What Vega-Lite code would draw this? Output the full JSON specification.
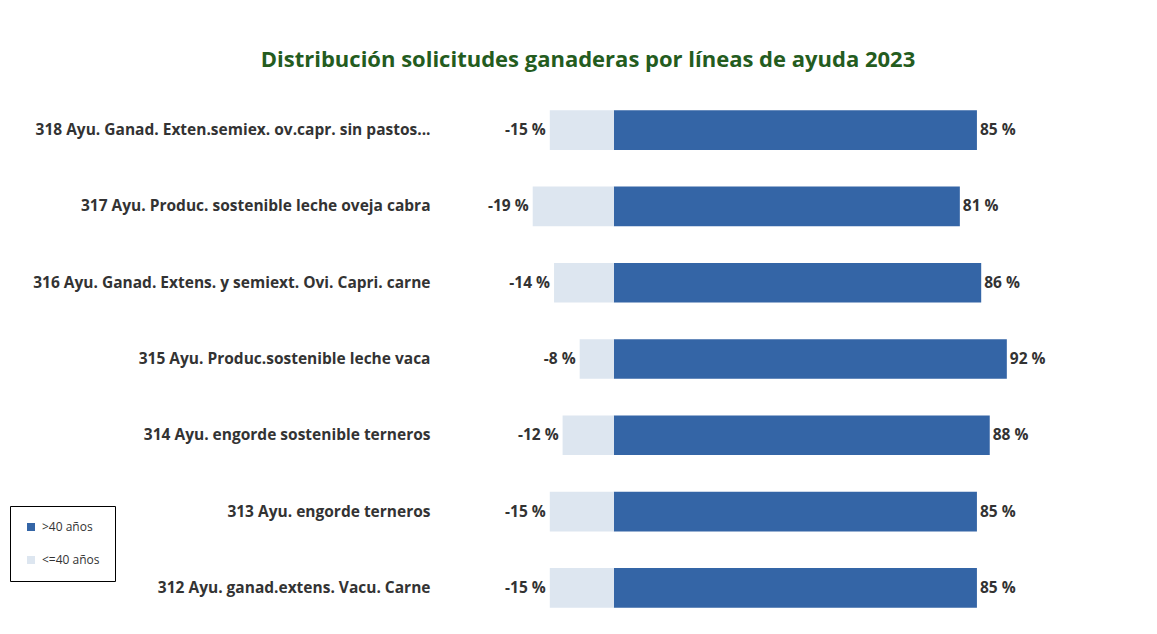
{
  "$schema": "https://vega.github.io/schema/vega-lite/v6.json",
  "autosize": "none",
  "width": 598,
  "height": 534,
  "padding": {"left": 443, "top": 92, "right": 116, "bottom": 8},
  "background": "white",
  "title": {
    "text": "Distribución solicitudes ganaderas por líneas de ayuda 2023",
    "font": "Open Sans",
    "fontSize": 22,
    "fontWeight": "bold",
    "color": "#245c1e",
    "anchor": "middle",
    "frame": "group",
    "dx": -154,
    "offset": 20
  },
  "data": {
    "values": [
      {"linea": "318 Ayu. Ganad. Exten.semiex. ov.capr. sin pastos...", "grupo": ">40 años", "valor": 85},
      {"linea": "318 Ayu. Ganad. Exten.semiex. ov.capr. sin pastos...", "grupo": "<=40 años", "valor": -15},
      {"linea": "317 Ayu. Produc. sostenible leche oveja cabra", "grupo": ">40 años", "valor": 81},
      {"linea": "317 Ayu. Produc. sostenible leche oveja cabra", "grupo": "<=40 años", "valor": -19},
      {"linea": "316 Ayu. Ganad. Extens. y semiext. Ovi. Capri. carne", "grupo": ">40 años", "valor": 86},
      {"linea": "316 Ayu. Ganad. Extens. y semiext. Ovi. Capri. carne", "grupo": "<=40 años", "valor": -14},
      {"linea": "315 Ayu. Produc.sostenible leche vaca", "grupo": ">40 años", "valor": 92},
      {"linea": "315 Ayu. Produc.sostenible leche vaca", "grupo": "<=40 años", "valor": -8},
      {"linea": "314 Ayu. engorde sostenible terneros", "grupo": ">40 años", "valor": 88},
      {"linea": "314 Ayu. engorde sostenible terneros", "grupo": "<=40 años", "valor": -12},
      {"linea": "313 Ayu. engorde terneros", "grupo": ">40 años", "valor": 85},
      {"linea": "313 Ayu. engorde terneros", "grupo": "<=40 años", "valor": -15},
      {"linea": "312 Ayu. ganad.extens. Vacu. Carne", "grupo": ">40 años", "valor": 85},
      {"linea": "312 Ayu. ganad.extens. Vacu. Carne", "grupo": "<=40 años", "valor": -15}
    ]
  },
  "transform": [{"calculate": "datum.valor + ' %'", "as": "etiqueta"}],
  "encoding": {
    "y": {
      "field": "linea",
      "type": "nominal",
      "sort": null,
      "title": null,
      "scale": {"paddingInner": 0.48, "paddingOuter": 0.24},
      "axis": {
        "domain": false,
        "ticks": false,
        "labelFont": "Open Sans",
        "labelFontSize": 15.5,
        "labelFontWeight": "bold",
        "labelColor": "#333333",
        "labelPadding": 13,
        "labelLimit": 500
      }
    },
    "x": {
      "field": "valor",
      "type": "quantitative",
      "scale": {"domain": [-40, 100], "nice": false, "zero": false},
      "axis": null
    }
  },
  "layer": [
    {
      "mark": {"type": "bar"},
      "encoding": {
        "color": {
          "field": "grupo",
          "type": "nominal",
          "scale": {"domain": [">40 años", "<=40 años"], "range": ["#3465a6", "#dde6f0"]},
          "legend": {
            "title": null,
            "orient": "none",
            "legendX": -433,
            "legendY": 414,
            "symbolType": "square",
            "symbolSize": 64,
            "symbolStrokeWidth": 0,
            "labelFont": "Open Sans",
            "labelFontSize": 12,
            "labelColor": "#333333",
            "labelOffset": 5,
            "rowPadding": 21,
            "padding": 15,
            "strokeColor": "#000000",
            "fillColor": "white",
            "cornerRadius": 0
          }
        }
      }
    },
    {
      "transform": [{"filter": "datum.valor >= 0"}],
      "mark": {"type": "text", "align": "left", "dx": 3, "font": "Open Sans", "fontSize": 15.5, "fontWeight": "bold", "color": "#333333"},
      "encoding": {"text": {"field": "etiqueta"}}
    },
    {
      "transform": [{"filter": "datum.valor < 0"}],
      "mark": {"type": "text", "align": "right", "dx": -4, "font": "Open Sans", "fontSize": 15.5, "fontWeight": "bold", "color": "#333333"},
      "encoding": {"text": {"field": "etiqueta"}}
    }
  ],
  "config": {"view": {"stroke": null}}
}
